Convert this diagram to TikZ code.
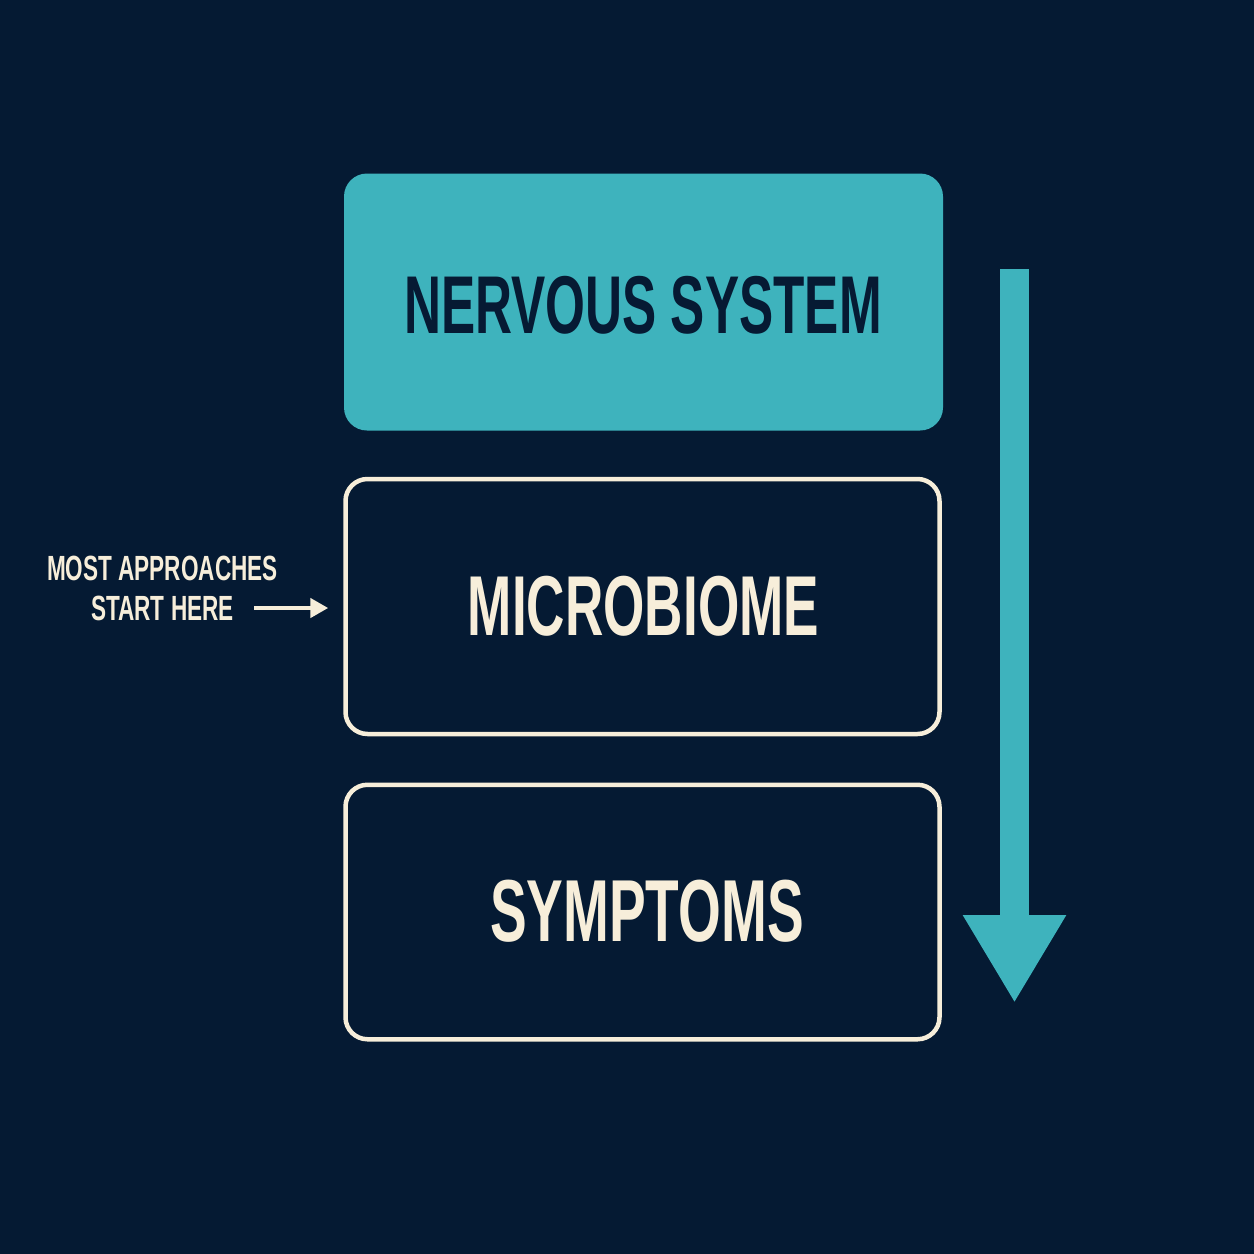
\documentclass[tikz,border=0pt]{standalone}
\usepackage{fontspec}
\usetikzlibrary{arrows.meta}
\newfontfamily\headfont{Liberation Sans}[FakeStretch=0.625]
\newfontfamily\labelfont{Liberation Sans}[FakeStretch=0.645]
\definecolor{bgnavy}{HTML}{051A33}
\definecolor{teal}{HTML}{3EB3BD}
\definecolor{cream}{HTML}{F7EEDA}
\definecolor{inknavy}{HTML}{061A33}
\tikzset{
  layerbox/.style={rectangle, rounded corners=22pt, minimum width=594pt, minimum height=255pt, inner sep=0pt},
  filledbox/.style={layerbox, fill=teal, text=inknavy},
  outlinebox/.style={layerbox, draw=cream, line width=4.5pt, text=cream},
  headtext/.style={font=\headfont\bfseries\fontsize{#1}{#1}\selectfont},
  smalltext/.style={font=\labelfont\bfseries\fontsize{35}{40}\selectfont, text=cream, align=center, inner sep=0pt},
  flowarrow/.style={draw=teal, line width=29pt, -{Triangle[length=88pt,width=97pt]}},
  pointer/.style={draw=cream, line width=4.5pt, -{Triangle[length=18pt,width=19pt]}}
}
\begin{document}
\begin{tikzpicture}[x=1pt,y=-1pt]
\fill[bgnavy] (0,0) rectangle (1254,1254);
\useasboundingbox (0,0) rectangle (1254,1254);
\node[filledbox, minimum width=599pt, minimum height=257pt, rounded corners=23pt] (nervous) at (643.5,302) {};
\node[headtext=82, text=inknavy] (nervoustext) at (643,305.5) {NERVOUS SYSTEM};
\node[outlinebox] (micro) at (642.5,606.5) {};
\node[headtext=85, text=cream] (microtext) at (643.5,606) {MICROBIOME};
\node[outlinebox, minimum height=254.5pt] (symptoms) at (642.5,912) {};
\node[headtext=88, text=cream] (symptomstext) at (647,911) {SYMPTOMS};
\coordinate (flowtop) at (1014.5,269);
\coordinate (flowtip) at (1014.5,1003);
\draw[flowarrow] (flowtop) -- (flowtip);
\node[smalltext] (startlabel) at (162.5,588) {MOST APPROACHES\\START HERE};
\coordinate (pointerstart) at (254,608);
\draw[pointer] (pointerstart) -- ([xshift=-15pt,yshift=-1.5pt]micro.west);
\end{tikzpicture}
\end{document}
